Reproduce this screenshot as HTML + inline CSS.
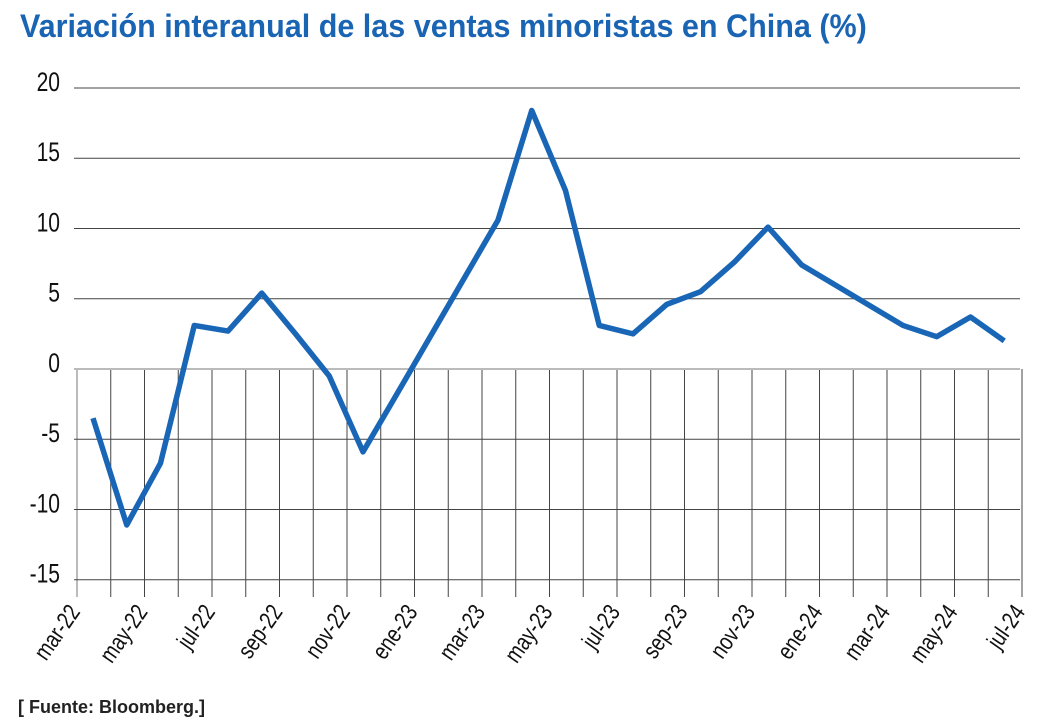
<!DOCTYPE html>
<html><head><meta charset="utf-8"><style>
body{margin:0;background:#fff;width:1059px;height:722px;overflow:hidden;font-family:"Liberation Sans",sans-serif}
</style></head><body>
<svg width="1059" height="722">
<text x="20" y="37" font-size="32" font-weight="bold" fill="#1a64b4" transform="translate(20,0) scale(0.955,1) translate(-20,0)">Variación interanual de las ventas minoristas en China (%)</text>
<g id="grid"></g><g id="yt"></g><g id="xt"></g>
<path id="line" fill="none" stroke="#1a66b6" stroke-width="5.5" stroke-linejoin="round"/>
<text x="18" y="713" font-size="18" font-weight="bold" fill="#222">[ Fuente: Bloomberg.]</text>
</svg>
<script>
const months=["mar-22","apr-22","may-22","jun-22","jul-22","aug-22","sep-22","oct-22","nov-22","dec-22","jan-23","feb-23","mar-23","apr-23","may-23","jun-23","jul-23","aug-23","sep-23","oct-23","nov-23","dec-23","jan-24","feb-24","mar-24","apr-24","may-24","jun-24","jul-24"];
const values=[-3.5,-11.1,-6.7,3.1,2.7,5.4,2.5,-0.5,-5.9,-1.8,null,null,10.6,18.4,12.7,3.1,2.5,4.6,5.5,7.6,10.1,7.4,null,null,3.1,2.3,3.7,2.0,null];
const yTicks=[20,15,10,5,0,-5,-10,-15];
const xLabels=["mar-22","may-22","jul-22","sep-22","nov-22","ene-23","mar-23","may-23","jul-23","sep-23","nov-23","ene-24","mar-24","may-24","jul-24"];
const NS="http://www.w3.org/2000/svg";
const x0=77,step=33.75,yv=v=>369-v*14.05;
const xm=i=>x0+step*i;
const grid=document.getElementById('grid'),yt=document.getElementById('yt'),xt=document.getElementById('xt');
function mk(tag,a,p){const e=document.createElementNS(NS,tag);for(const k in a)e.setAttribute(k,a[k]);p.appendChild(e);return e;}
for(let i=0;i<months.length;i++){
 const l=mk('line',{x1:xm(i),x2:xm(i),y1:369,y2:597,stroke:i==0?'#bbb':'#444','stroke-width':i==0?2:1},grid);
 
 
}
yTicks.forEach(v=>{
 const l=mk('line',{x1:74,x2:1020,y1:yv(v),y2:yv(v),stroke:v==0?'#bbb':'#444','stroke-width':v==0?2:1},grid);
 
 
 const t=mk('text',{x:60,y:yv(v)+3,'font-size':27,'text-anchor':'end',fill:'#111',transform:`translate(60,0) scale(0.78,1) translate(-60,0)`},yt);
 t.textContent=v;
 
 
});
xLabels.forEach((s,k)=>{
 const x=xm(k*2)+4,y=612;
 const t=mk('text',{x:0,y:0,'font-size':24,'text-anchor':'end',fill:'#111',transform:`translate(${x},${y}) rotate(-55) scale(0.8,1)`},xt);
 t.textContent=s;
 
 
});
let d='';
values.forEach((v,i)=>{if(v===null)return;d+=(d?'L':'M')+(xm(i)+16)+','+yv(v);});
document.getElementById('line').setAttribute('d',d);
</script>
</body></html>
